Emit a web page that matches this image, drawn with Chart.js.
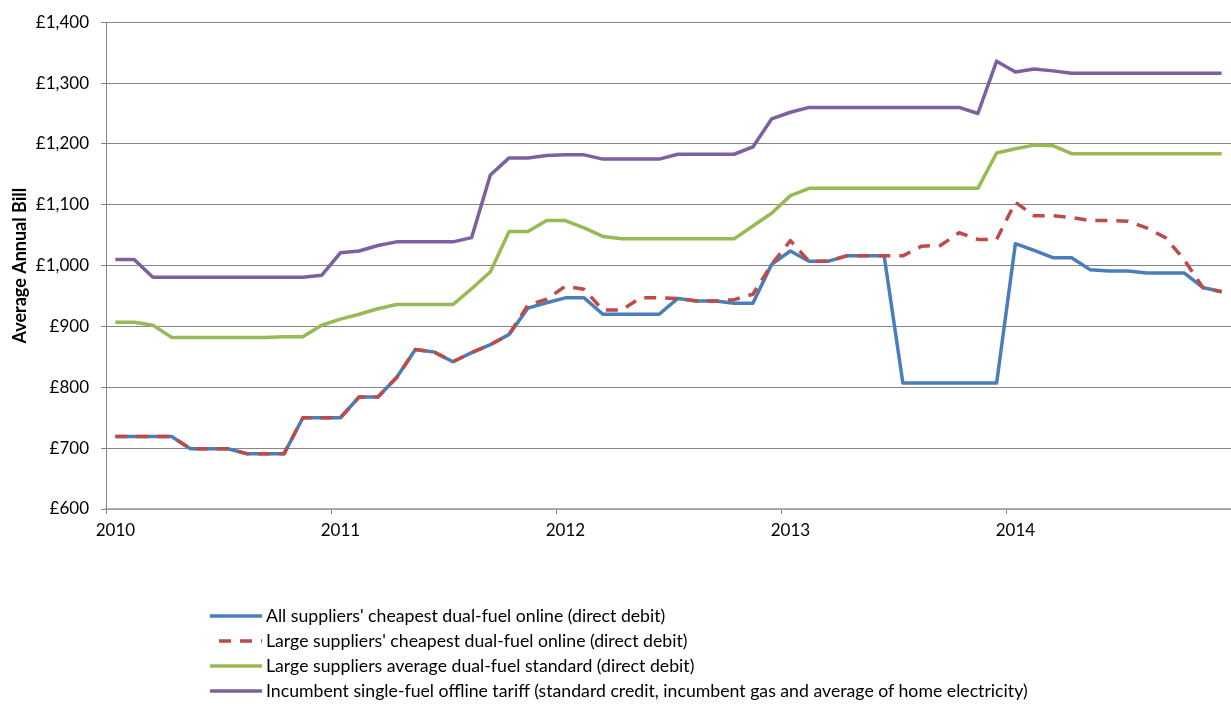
<!DOCTYPE html>
<html lang="en">
<head>
<meta charset="UTF-8">
<title>Average Annual Bill 2010-2014</title>
<script src="https://cdn.jsdelivr.net/npm/chart.js"></script>
<style>
  body { margin: 0; background: #fff; }
  #wrap { position: relative; width: 1231px; height: 706px; }
  #legend { position: absolute; left: 210px; top: 603px; font-family: Lato, "Liberation Sans", sans-serif; font-size: 17.7px; color: #000; }
  .item { display: flex; align-items: center; height: 25px; white-space: nowrap; }
  .item canvas { margin-right: 4px; }
</style>
</head>
<body>
<div id="wrap">
  <canvas id="billChart" width="1231" height="540"></canvas>
  <div id="legend"></div>
</div>

<script>
// categories: monthly, Jan 2010 - Dec 2014
const years = ['2010', '2011', '2012', '2013', '2014'];
const monthNames = ['Jan', 'Feb', 'Mar', 'Apr', 'May', 'Jun', 'Jul', 'Aug', 'Sep', 'Oct', 'Nov', 'Dec'];
const months = years.flatMap(y => monthNames.map(m => m + ' ' + y));

const allSuppliersCheapest = [
  719, 719, 719, 719, 699, 699, 699, 691, 691, 691, 750, 750,
  750, 784, 784, 816, 862, 858, 842, 857, 870, 887, 930, 939,
  947, 947, 920, 920, 920, 920, 946, 942, 942, 938, 938, 1002,
  1024, 1007, 1007, 1016, 1016, 1016, 807, 807, 807, 807, 807, 807,
  1036, 1025, 1013, 1013, 993, 991, 991, 988, 988, 988, 964, 957
];
const largeSuppliersCheapest = [
  719, 719, 719, 719, 699, 699, 699, 691, 691, 691, 750, 750,
  750, 784, 784, 816, 862, 858, 842, 857, 870, 887, 935, 945,
  966, 961, 927, 927, 947, 947, 946, 942, 942, 944, 953, 1002,
  1041, 1007, 1007, 1016, 1016, 1016, 1016, 1032, 1033, 1054, 1043, 1043,
  1104, 1082, 1082, 1079, 1074, 1074, 1073, 1062, 1046, 1010, 964, 957
];
const largeSuppliersStandard = [
  907, 907, 902, 882, 882, 882, 882, 882, 882, 883, 883, 902,
  912, 920, 929, 936, 936, 936, 936, 962, 990, 1056, 1056, 1074,
  1074, 1062, 1048, 1044, 1044, 1044, 1044, 1044, 1044, 1044, 1065, 1086,
  1115, 1127, 1127, 1127, 1127, 1127, 1127, 1127, 1127, 1127, 1127, 1185,
  1192, 1198, 1197, 1184, 1184, 1184, 1184, 1184, 1184, 1184, 1184, 1184
];
const incumbentOffline = [
  1010, 1010, 981, 981, 981, 981, 981, 981, 981, 981, 981, 984,
  1021, 1024, 1033, 1039, 1039, 1039, 1039, 1046, 1149, 1177, 1177, 1181,
  1182, 1182, 1175, 1175, 1175, 1175, 1183, 1183, 1183, 1183, 1195, 1241,
  1252, 1260, 1260, 1260, 1260, 1260, 1260, 1260, 1260, 1260, 1250, 1336,
  1318, 1323, 1320, 1316, 1316, 1316, 1316, 1316, 1316, 1316, 1316, 1316
];

const fontFamily = 'Lato, "Liberation Sans", sans-serif';

// legend drawn as html rows under the chart
const htmlLegend = {
  id: 'htmlLegend',
  afterUpdate(chart) {
    const box = document.getElementById('legend');
    box.innerHTML = '';
    chart.data.datasets.forEach(ds => {
      const row = document.createElement('div');
      row.className = 'item';
      const c = document.createElement('canvas');
      c.width = 52;
      c.height = 10;
      const g = c.getContext('2d');
      g.strokeStyle = ds.borderColor;
      g.lineWidth = ds.borderWidth;
      if (ds.borderDash) {
        g.setLineDash(ds.borderDash);
        g.lineDashOffset = 12;
      }
      g.beginPath();
      g.moveTo(0, 5);
      g.lineTo(52, 5);
      g.stroke();
      const label = document.createElement('span');
      label.textContent = ds.label;
      row.appendChild(c);
      row.appendChild(label);
      box.appendChild(row);
    });
  }
};

const ctx = document.getElementById('billChart').getContext('2d');
const billChart = new Chart(ctx, {
  type: 'line',
  data: {
    labels: months,
    datasets: [
      {
        label: "All suppliers' cheapest dual-fuel online (direct debit)",
        data: allSuppliersCheapest,
        borderColor: '#4A7EBB',
        borderWidth: 3.5,
        order: 4
      },
      {
        label: "Large suppliers' cheapest dual-fuel online (direct debit)",
        data: largeSuppliersCheapest,
        borderColor: '#BE4B48',
        borderWidth: 3.5,
        borderDash: [12, 9],
        order: 3
      },
      {
        label: 'Large suppliers average dual-fuel standard (direct debit)',
        data: largeSuppliersStandard,
        borderColor: '#98B954',
        borderWidth: 3.5,
        order: 2
      },
      {
        label: 'Incumbent single-fuel offline tariff (standard credit, incumbent gas and average of home electricity)',
        data: incumbentOffline,
        borderColor: '#7D60A0',
        borderWidth: 3.5,
        order: 1
      }
    ]
  },
  options: {
    responsive: false,
    animation: false,
    devicePixelRatio: 1,
    layout: { padding: { top: 19, right: 0, bottom: 0, left: 0 } },
    elements: {
      point: { radius: 0 },
      line: { tension: 0, fill: false, borderJoinStyle: 'round' }
    },
    plugins: {
      legend: { display: false },
      tooltip: { enabled: false }
    },
    scales: {
      x: {
        type: 'category',
        offset: true,
        afterFit: scale => { scale.height = 31; },
        grid: {
          offset: true,
          drawOnChartArea: false,
          drawTicks: true,
          tickLength: 5,
          color: c => (c.index === undefined || c.index % 12 === 0) ? '#868686' : 'rgba(0,0,0,0)'
        },
        border: { color: '#B4B4B4', width: 1.5 },
        ticks: {
          autoSkip: false,
          maxRotation: 0,
          padding: 6,
          color: '#000',
          font: { family: fontFamily, size: 17 },
          callback: (v, i) => i % 12 === 0 ? months[i].slice(-4) : ''
        }
      },
      y: {
        min: 600,
        max: 1400,
        afterFit: scale => { scale.width = 106; },
        grid: { color: '#868686', tickLength: 5 },
        border: { color: '#868686' },
        ticks: {
          stepSize: 100,
          padding: 12,
          color: '#000',
          font: { family: fontFamily, size: 17 },
          callback: v => '£' + v.toLocaleString('en-GB')
        },
        title: {
          display: true,
          text: 'Average Annual Bill',
          color: '#000',
          padding: { top: 9, bottom: 0 },
          font: { family: fontFamily, size: 18, weight: 'bold' }
        }
      }
    }
  },
  plugins: [htmlLegend]
});
</script>
</body>
</html>
